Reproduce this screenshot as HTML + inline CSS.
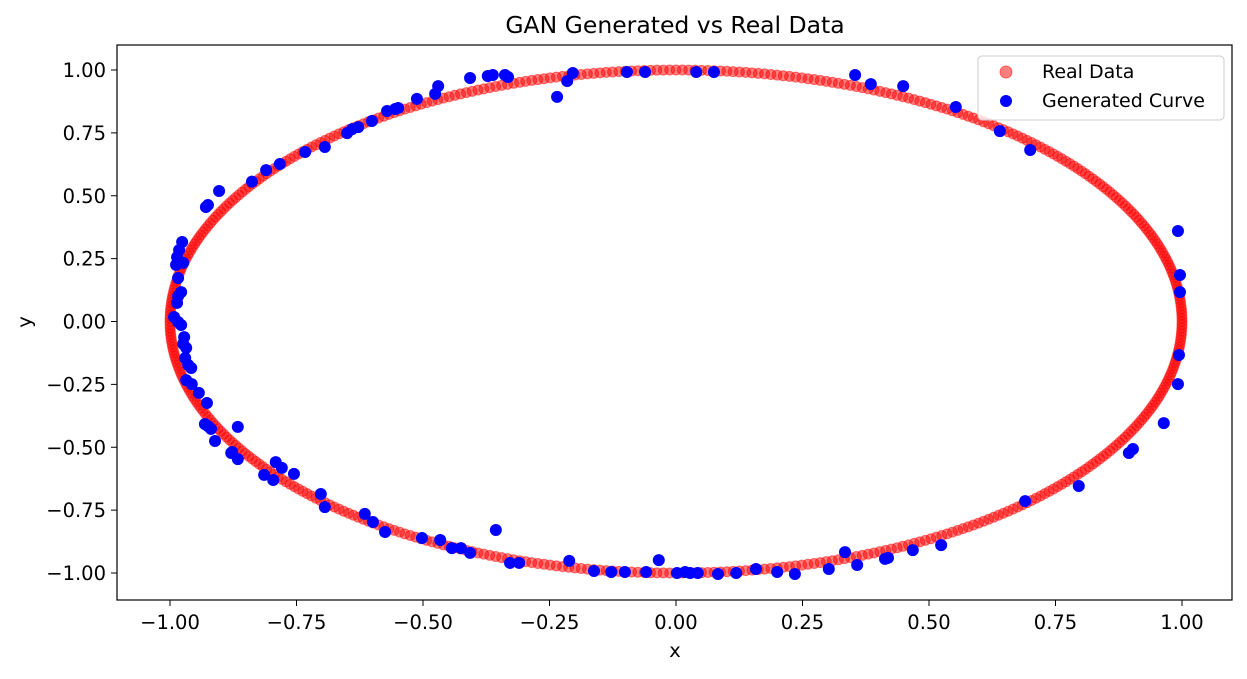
<!DOCTYPE html>
<html><head><meta charset="utf-8"><style>
body{margin:0;background:#fff;font-family:"Liberation Sans","DejaVu Sans",sans-serif;}
svg text{font-family:"DejaVu Sans","Liberation Sans",sans-serif;fill:#000;}
</style></head><body>
<svg id="chart" width="1247" height="674" xmlns="http://www.w3.org/2000/svg">
<rect width="1247" height="674" fill="#fff"/>
<text x="675" y="33" font-size="23.5" text-anchor="middle">GAN Generated vs Real Data</text>
<g id="real"></g>
<g id="gen"></g>
<rect x="117" y="45" width="1115" height="555" fill="none" stroke="#000" stroke-width="1.2"/>
<g id="xticks"></g>
<g id="yticks"></g>
<text x="675" y="657" font-size="19.5" text-anchor="middle">x</text>
<text x="31" y="322" font-size="19.5" text-anchor="middle" transform="rotate(-90 31 322)">y</text>
<g>
<rect x="978" y="56" width="246" height="64" rx="4" fill="#fff" fill-opacity="0.8" stroke="#ccc"/>
<circle cx="1006" cy="72" r="6" fill="rgba(255,0,0,0.5)" stroke="rgba(255,0,0,0.5)"/>
<text x="1042" y="78" font-size="19">Real Data</text>
<circle cx="1006" cy="101" r="6" fill="#0000ff"/>
<text x="1042" y="107" font-size="19">Generated Curve</text>
</g>
</svg>
<script>
const xTicks=[-1.00,-0.75,-0.50,-0.25,0.00,0.25,0.50,0.75,1.00];
const yTicks=[-1.00,-0.75,-0.50,-0.25,0.00,0.25,0.50,0.75,1.00];
const realCount=500;
const genX=[-0.512,-0.476,-0.470,-0.407,-0.372,-0.362,-0.338,-0.332,-0.235,-0.215,-0.204,-0.097,-0.061,0.040,0.075,0.354,0.385,0.449,0.553,0.640,0.700,-0.571,-0.555,-0.549,-0.601,-0.640,-0.628,-0.650,-0.694,-0.733,-0.783,-0.810,-0.838,-0.903,-0.925,-0.929,-0.976,-0.982,-0.986,-0.988,-0.974,-0.984,-0.978,-0.984,-0.986,-0.992,-0.984,-0.978,-0.972,-0.974,-0.968,-0.970,-0.964,-0.958,-0.968,-0.957,-0.943,-0.927,-0.931,-0.925,-0.919,-0.911,-0.877,-0.866,-0.879,-0.866,-0.814,-0.796,-0.791,-0.779,-0.755,-0.702,-0.694,-0.615,-0.599,-0.575,-0.502,-0.466,-0.443,-0.425,-0.407,-0.356,-0.328,-0.310,-0.211,-0.162,-0.128,-0.101,-0.059,-0.034,0.002,0.018,0.028,0.043,0.083,0.119,0.158,0.200,0.235,0.302,0.334,0.358,0.413,0.419,0.468,0.524,0.690,0.796,0.895,0.903,0.964,0.992,0.994,0.996,0.996,0.992];
const genY=[0.885,0.905,0.936,0.968,0.976,0.980,0.980,0.972,0.893,0.956,0.988,0.992,0.992,0.992,0.992,0.980,0.944,0.936,0.853,0.757,0.682,0.837,0.845,0.849,0.797,0.765,0.773,0.749,0.694,0.674,0.626,0.602,0.556,0.519,0.463,0.455,0.316,0.284,0.256,0.225,0.233,0.173,0.117,0.101,0.074,0.018,-0.002,-0.014,-0.062,-0.089,-0.105,-0.145,-0.173,-0.185,-0.233,-0.249,-0.284,-0.324,-0.408,-0.416,-0.427,-0.475,-0.519,-0.419,-0.523,-0.547,-0.610,-0.630,-0.559,-0.582,-0.606,-0.686,-0.738,-0.765,-0.797,-0.837,-0.861,-0.869,-0.901,-0.901,-0.920,-0.829,-0.960,-0.960,-0.952,-0.992,-0.996,-0.996,-0.996,-0.949,-1.0,-0.996,-1.0,-1.0,-1.004,-1.0,-0.984,-0.996,-1.004,-0.984,-0.917,-0.968,-0.944,-0.940,-0.909,-0.889,-0.714,-0.654,-0.523,-0.507,-0.404,-0.249,-0.133,0.117,0.185,0.360];
const NS="http://www.w3.org/2000/svg";
const sx=v=>676+v*506, sy=v=>321.5-v*251.5;
function mk(t,a){const e=document.createElementNS(NS,t);for(const k in a)e.setAttribute(k,a[k]);return e;}
const real=document.getElementById('real');
for(let i=0;i<realCount;i++){const t=2*Math.PI*i/realCount;
 const c=mk('circle',{cx:sx(Math.cos(t)),cy:sy(Math.sin(t)),r:5,fill:'rgba(255,0,0,0.5)',stroke:'rgba(255,0,0,0.5)'});
 
 
 real.appendChild(c);}
const gen=document.getElementById('gen');
genX.forEach((x,i)=>{const c=mk('circle',{cx:sx(x),cy:sy(genY[i]),r:6,fill:'#0000ff'});
 
 
 gen.appendChild(c);});
const xg=document.getElementById('xticks');
xTicks.forEach(v=>{const x=sx(v);xg.appendChild(mk('line',{x1:x,x2:x,y1:600,y2:606,stroke:'#000'}));
 const t=mk('text',{x:x,y:629,'font-size':19.5,'text-anchor':'middle'});t.textContent=(v<0?'\u2212':'')+Math.abs(v).toFixed(2);
 
 
 xg.appendChild(t);});
const yg=document.getElementById('yticks');
yTicks.forEach(v=>{const y=sy(v);yg.appendChild(mk('line',{x1:111,x2:117,y1:y,y2:y,stroke:'#000'}));
 const t=mk('text',{x:106,y:y+7,'font-size':19.5,'text-anchor':'end'});t.textContent=(v<0?'\u2212':'')+Math.abs(v).toFixed(2);
 
 
 yg.appendChild(t);});
</script>
</body></html>
